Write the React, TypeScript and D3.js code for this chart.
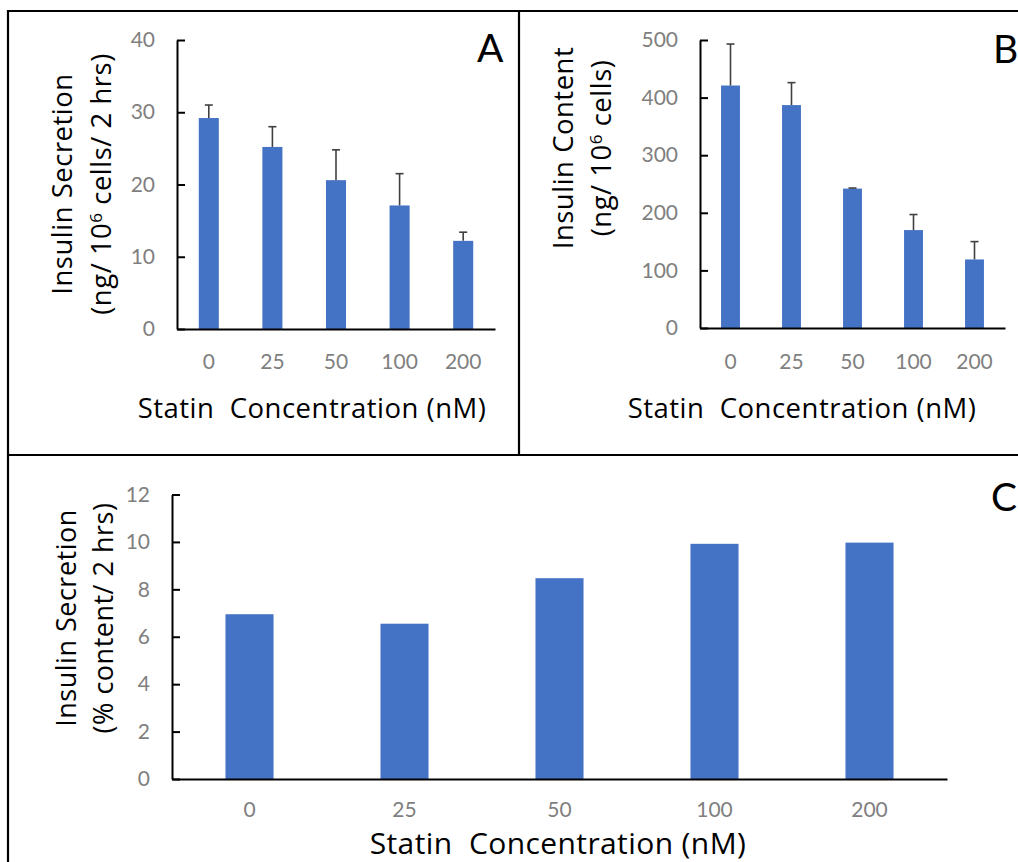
import React, { useEffect, useRef } from 'react';
import * as d3 from 'd3';

const categories = ['0', '25', '50', '100', '200'];

// panel A: insulin secretion (ng / 10^6 cells / 2 hrs)
const secretionA = [29.2, 25.2, 20.6, 17.1, 12.2];
const secretionAErr = [1.8, 2.8, 4.2, 4.4, 1.2];
const ticksA = [0, 10, 20, 30, 40];

// panel B: insulin content (ng / 10^6 cells)
const contentB = [421, 387, 242, 170, 119];
const contentBErr = [72, 39, 1, 27, 31];
const ticksB = [0, 100, 200, 300, 400, 500];

// panel C: insulin secretion (% content / 2 hrs)
const percentC = [6.95, 6.55, 8.47, 9.92, 9.97];
const ticksC = [0, 2, 4, 6, 8, 10, 12];

const BAR = '#4472C4';
const TICK_FONT = 'Lato, "Open Sans", sans-serif';
const TITLE_FONT = '"Open Sans", Lato, sans-serif';

function drawPanel(svg, cfg) {
  const g = svg.append('g');
  const x = d3
    .scaleBand()
    .domain(categories)
    .range([cfg.x0, cfg.x1])
    .paddingInner(cfg.pad)
    .paddingOuter(cfg.pad / 2);
  const y = d3
    .scaleLinear()
    .domain([0, cfg.ticks[cfg.ticks.length - 1]])
    .range([cfg.yBot, cfg.yTop]);

  g.selectAll('rect.bar')
    .data(cfg.values)
    .join('rect')
    .attr('class', 'bar')
    .attr('x', (d, i) => x(categories[i]))
    .attr('y', d => y(d))
    .attr('width', x.bandwidth())
    .attr('height', d => y(0) - y(d))
    .attr('fill', BAR);

  if (cfg.errs) {
    cfg.errs.forEach((e, i) => {
      const cx = x(categories[i]) + x.bandwidth() / 2;
      const top = y(cfg.values[i] + e);
      g.append('line')
        .attr('x1', cx).attr('x2', cx)
        .attr('y1', y(cfg.values[i])).attr('y2', top)
        .attr('stroke', '#404040').attr('stroke-width', 1.6);
      g.append('line')
        .attr('x1', cx - 4).attr('x2', cx + 4)
        .attr('y1', top).attr('y2', top)
        .attr('stroke', '#404040').attr('stroke-width', 1.6);
    });
  }

  const yAxis = g
    .append('g')
    .attr('transform', `translate(${cfg.x0},0)`)
    .call(
      d3.axisLeft(y).tickValues(cfg.ticks).tickSizeInner(-8).tickSizeOuter(0).tickPadding(22),
    );
  yAxis.select('.domain').attr('stroke', '#000').attr('stroke-width', 2);
  yAxis.selectAll('.tick line').attr('stroke', '#000').attr('stroke-width', 2);
  yAxis.selectAll('.tick text')
    .attr('fill', '#7f7f7f')
    .attr('font-family', TICK_FONT)
    .attr('font-size', cfg.tickSize);

  const xAxis = g
    .append('g')
    .attr('transform', `translate(0,${cfg.yBot})`)
    .call(d3.axisBottom(x).tickSize(0).tickPadding(cfg.xTickPad));
  xAxis.select('.domain').attr('stroke', '#000').attr('stroke-width', 2);
  xAxis.selectAll('.tick text')
    .attr('fill', '#7f7f7f')
    .attr('font-family', TICK_FONT)
    .attr('font-size', cfg.tickSize);

  g.append('text')
    .attr('x', cfg.xTitle[0])
    .attr('y', cfg.xTitle[1])
    .attr('text-anchor', 'middle')
    .attr('font-family', TITLE_FONT)
    .attr('font-size', cfg.titleSize)
    .attr('letter-spacing', cfg.spacing)
    .attr('fill', '#000')
    .style('white-space', 'pre')
    .text('Statin  Concentration (nM)');

  cfg.yTitle.forEach(line => {
    const t = g.append('text')
      .attr('transform', `translate(${line.x},${cfg.yTitleCy}) rotate(-90)`)
      .attr('text-anchor', 'middle')
      .attr('font-family', TITLE_FONT)
      .attr('font-size', cfg.yTitleSize)
      .attr('letter-spacing', 0.5)
      .attr('fill', '#000');
    line.parts.forEach(p => {
      if (p.sup) {
        t.append('tspan').attr('font-size', cfg.yTitleSize * 0.62).attr('dy', -9).text(p.sup);
        t.append('tspan').attr('dy', 9).text(p.text);
      } else {
        t.append('tspan').text(p.text);
      }
    });
  });

  g.append('text')
    .attr('x', cfg.letter[0])
    .attr('y', cfg.letter[1])
    .attr('font-family', TICK_FONT)
    .attr('font-size', 39)
    .attr('fill', '#000')
    .text(cfg.letter[2]);
}

function App() {
  const ref = useRef(null);

  useEffect(() => {
    const svg = d3.select(ref.current);
    svg.selectAll('*').remove();

    // frame
    const frame = svg.append('g').attr('stroke', '#000').attr('stroke-width', 2.2);
    frame.append('line').attr('x1', 8).attr('x2', 8).attr('y1', 10).attr('y2', 862);
    frame.append('line').attr('x1', 7).attr('x2', 1018).attr('y1', 11).attr('y2', 11);
    frame.append('line').attr('x1', 519).attr('x2', 519).attr('y1', 11).attr('y2', 455);
    frame.append('line').attr('x1', 7).attr('x2', 1018).attr('y1', 455).attr('y2', 455);

    drawPanel(svg, {
      x0: 177, x1: 495, yTop: 40, yBot: 329, pad: 0.685,
      ticks: ticksA, values: secretionA, errs: secretionAErr,
      tickSize: 21, xTickPad: 25, titleSize: 27.5, spacing: 0.5, yTitleSize: 27.5,
      xTitle: [312, 418],
      yTitleCy: 184,
      yTitle: [
        { x: 72, parts: [{ text: 'Insulin Secretion' }] },
        { x: 111, parts: [{ text: '(ng/ 10' }, { sup: '6', text: ' cells/ 2 hrs)' }] },
      ],
      letter: [477, 62, 'A'],
    });

    drawPanel(svg, {
      x0: 700, x1: 1005, yTop: 40, yBot: 328, pad: 0.69,
      ticks: ticksB, values: contentB, errs: contentBErr,
      tickSize: 21, xTickPad: 26, titleSize: 27.5, spacing: 0.5, yTitleSize: 27.5,
      xTitle: [802, 418],
      yTitleCy: 148,
      yTitle: [
        { x: 573, parts: [{ text: 'Insulin Content' }] },
        { x: 611, parts: [{ text: '(ng/ 10' }, { sup: '6', text: ' cells)' }] },
      ],
      letter: [993, 63, 'B'],
    });

    drawPanel(svg, {
      x0: 172, x1: 947, yTop: 494.5, yBot: 779, pad: 0.69,
      ticks: ticksC, values: percentC, errs: null,
      tickSize: 21, xTickPad: 23, titleSize: 30, spacing: 0.4, yTitleSize: 27,
      xTitle: [558, 854],
      yTitleCy: 618,
      yTitle: [
        { x: 76, parts: [{ text: 'Insulin Secretion' }] },
        { x: 113, parts: [{ text: '(% content/ 2 hrs)' }] },
      ],
      letter: [991, 511, 'C'],
    });
  }, []);

  return (
    <svg
      ref={ref}
      width={1018}
      height={862}
      style={{ position: 'absolute', left: 0, top: 0, background: '#fff' }}
    />
  );
}

export default App;
